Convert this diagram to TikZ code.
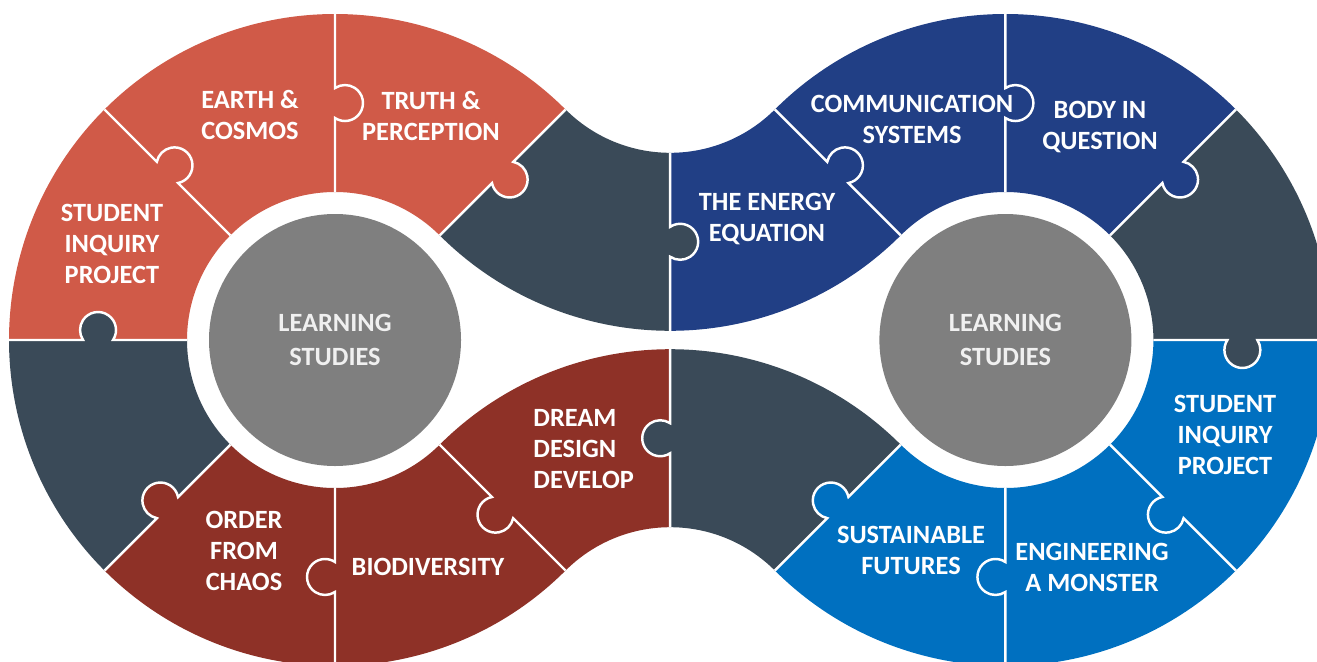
\documentclass[tikz,border=0pt]{standalone}
\usepackage{fontspec}
\setmainfont{Carlito}
\usetikzlibrary{calc}

\definecolor{lightred}{HTML}{D05A48}
\definecolor{darkred}{HTML}{8E3127}
\definecolor{slate}{HTML}{3A4A58}
\definecolor{navy}{HTML}{213F85}
\definecolor{brightblue}{HTML}{0070C0}
\definecolor{hubgray}{HTML}{7F7F7F}

\newcommand{\ro}{3.26}
\newcommand{\rh}{1.48}
\newcommand{\rmid}{2.37}

% one sector of a ring: centre, start angle, end angle, colour
\newcommand{\ringpiece}[4]{%
  \begin{scope}[shift={(#1)}]
    \fill[#4] (#2:\ro) arc[start angle=#2, end angle=#3, radius=\ro]
      -- (#3:\rh) arc[start angle=#3, end angle=#2, radius=\rh] -- cycle;
  \end{scope}}

% divider with knob: centre, angle, side, knob colour
\newcommand{\puzzletab}[4]{%
  \begin{scope}[shift={(#1)}, rotate=#2]
    \fill[#4] ({\rmid},{(#3)*0.10}) circle[radius=0.18];
    \draw[divider] (\rh,0) -- ({\rmid-0.15},0)
      arc[start angle={180+(#3)*33.69}, delta angle={-1*(#3)*247.38}, radius=0.18]
      -- (\ro,0);
  \end{scope}}

\begin{document}
\begin{tikzpicture}[
    topic/.style={text=white, font=\fontsize{7.5}{8.8}\selectfont\bfseries, align=center},
    hub/.style={circle, fill=hubgray, minimum size=2.52cm, inner sep=0pt,
      text=white!94!black, font=\fontsize{7.5}{8.8}\selectfont\bfseries, align=center},
    divider/.style={white, line width=0.7pt}]

    \useasboundingbox (0,0) rectangle (13.17,-6.61);
    \clip (0,0) rectangle (13.17,-6.61);

    % Centres
    \coordinate (L) at (3.35,-3.40);
    \coordinate (T) at (6.702,-0.048);
    \coordinate (R) at (10.054,-3.40);
    \coordinate (B) at (6.702,-6.752);

    % Pieces
    \foreach \a/\b/\c in {45/90/lightred, 90/135/lightred, 135/180/lightred,
        180/225/slate, 225/270/darkred, 270/315/darkred}
      \ringpiece{L}{\a}{\b}{\c};
    \foreach \a/\b/\c in {225/270/slate, 270/315/navy}
      \ringpiece{T}{\a}{\b}{\c};
    \foreach \a/\b/\c in {90/135/navy, 45/90/navy, 0/45/slate,
        -45/0/brightblue, -90/-45/brightblue, -135/-90/brightblue}
      \ringpiece{R}{\a}{\b}{\c};
    \foreach \a/\b/\c in {90/135/darkred, 45/90/slate}
      \ringpiece{B}{\a}{\b}{\c};

    % Dividers
    \foreach \a/\c in {45/lightred, 90/lightred, 135/lightred, 180/slate,
        225/darkred, 270/darkred, 315/darkred}
      \puzzletab{L}{\a}{-1}{\c};
    \puzzletab{T}{270}{1}{slate};
    \foreach \a/\c in {135/navy, 90/navy, 45/navy, 0/slate,
        -45/brightblue, -90/brightblue, -135/brightblue}
      \puzzletab{R}{\a}{-1}{\c};
    \puzzletab{B}{90}{1}{slate};

    % Hubs
    \node[hub] (hubL) at (L) {LEARNING\\[1pt]STUDIES};
    \node[hub] (hubR) at (R) {LEARNING\\[1pt]STUDIES};

    % Labels
    \node[topic] (earth) at (2.50,-1.15) {EARTH \&\\COSMOS};
    \node[topic] (truth) at (4.31,-1.16) {TRUTH \&\\PERCEPTION};
    \node[topic] (sipL) at (1.12,-2.44) {STUDENT\\INQUIRY\\PROJECT};
    \node[topic] (order) at (2.44,-5.51) {ORDER\\FROM\\CHAOS};
    \node[topic] (bio) at (4.28,-5.67) {BIODIVERSITY};
    \node[topic, align=left, anchor=west] (dream) at (5.21,-4.49) {DREAM\\DESIGN\\DEVELOP};
    \node[topic] (energy) at (7.67,-2.19) {THE ENERGY\\EQUATION};
    \node[topic] (comm) at (9.12,-1.19) {COMMUNICATION\\SYSTEMS};
    \node[topic] (body) at (11.00,-1.27) {BODY IN\\QUESTION};
    \node[topic] (sipR) at (12.25,-4.35) {STUDENT\\INQUIRY\\PROJECT};
    \node[topic] (eng) at (10.92,-5.67) {ENGINEERING\\A MONSTER};
    \node[topic] (sus) at (9.11,-5.50) {SUSTAINABLE\\FUTURES};
\end{tikzpicture}
\end{document}
